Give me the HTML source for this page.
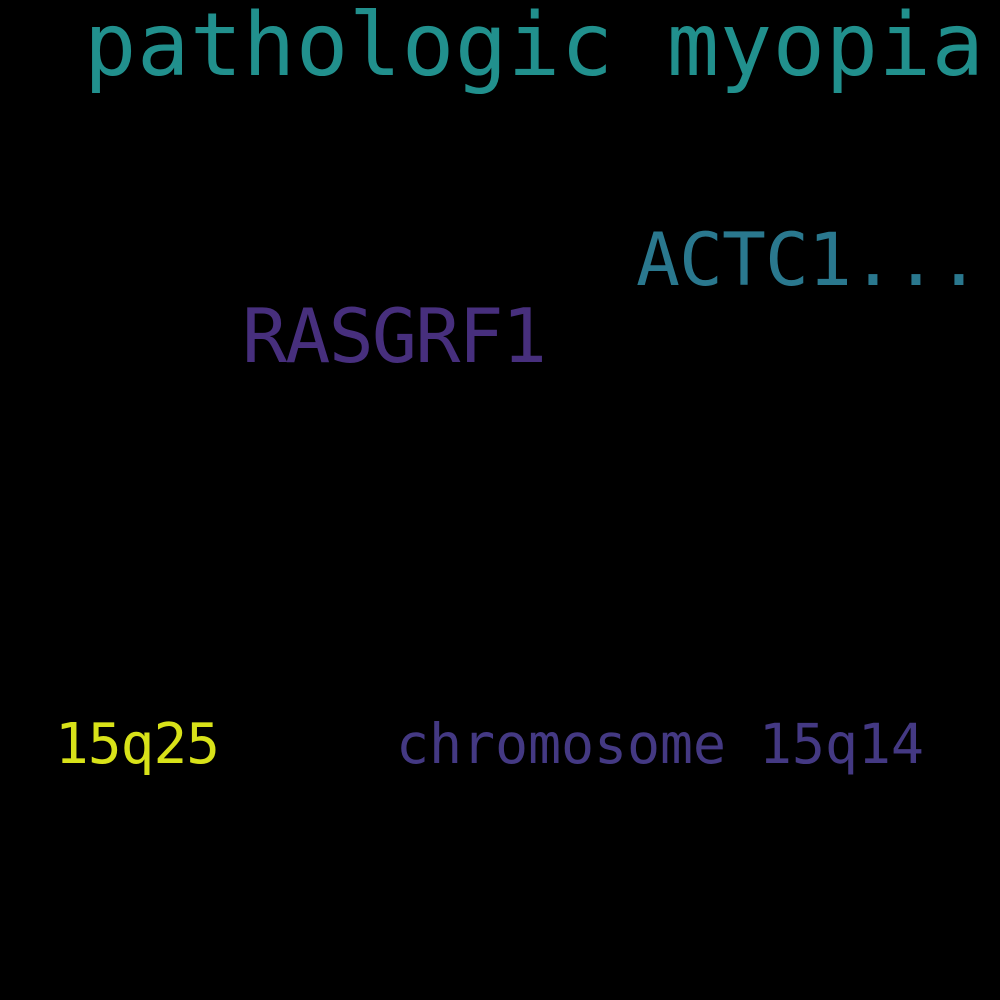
<!DOCTYPE html>
<html>
<head>
<meta charset="utf-8">
<style>
html,body{margin:0;padding:0;background:#000;}
svg{display:block;}
text{font-family:"DejaVu Sans Mono","Liberation Mono",monospace;}
</style>
</head>
<body>
<svg width="1000" height="1000" viewBox="0 0 1000 1000">
<rect x="0" y="0" width="1000" height="1000" fill="#000"/>
<text x="84" y="75" font-size="87" fill="#21908d" textLength="900">pathologic myopia</text>
<text x="636" y="285" font-size="73" fill="#2a788e" textLength="345">ACTC1...</text>
<text x="242" y="362" font-size="75" fill="#472f7d" textLength="305">RASGRF1</text>
<text x="55" y="763" font-size="56" fill="#d8e219" textLength="165">15q25</text>
<text x="396" y="763" font-size="55" fill="#443983" textLength="528">chromosome 15q14</text>
</svg>
</body>
</html>
